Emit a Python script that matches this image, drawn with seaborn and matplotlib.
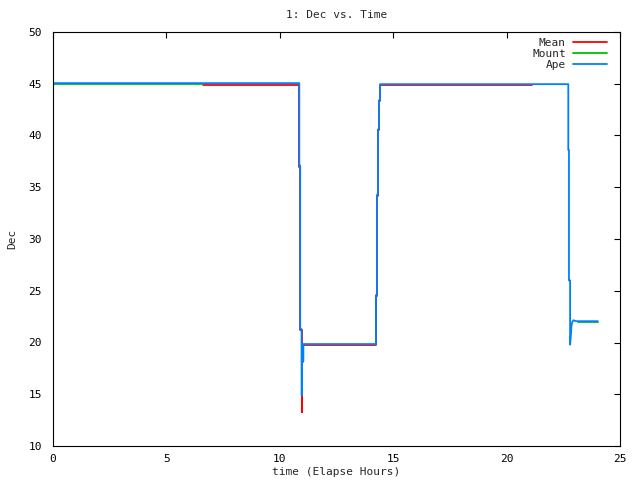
import numpy as np
import pandas as pd
import matplotlib
matplotlib.use("Agg")
import matplotlib.pyplot as plt
import seaborn as sns

# ---- data ----
series_names = ["Mean", "Mount", "Ape"]
series_colors = ["#ff0000", "#00c000", "#0080ff"]

mean_t = [6.61, 10.86, 10.86, 10.90, 10.90, 10.96, 10.96, 10.98, 10.98, 11.04, 11.04,
          14.24, 14.24, 14.29, 14.29, 14.33, 14.33, 14.37, 14.37, 14.42, 14.42, 21.10]
mean_v = [44.88, 44.88, 37.0, 37.0, 21.2, 21.2, 13.3, 13.3, 18.1, 18.1, 19.72,
          19.72, 24.5, 24.5, 34.2, 34.2, 40.5, 40.5, 43.3, 43.3, 44.85, 44.85]

mount_t1 = [0.0, 6.61]
mount_v1 = [44.98, 44.98]
mount_t2 = [23.13, 24.02]
mount_v2 = [21.97, 21.97]

ape_t = [0.0, 10.86, 10.86, 10.90, 10.90, 10.96, 10.96, 10.98, 10.98, 11.04, 11.04,
         14.24, 14.24, 14.29, 14.29, 14.33, 14.33, 14.37, 14.37, 14.42, 14.42,
         22.72, 22.72, 22.75, 22.75, 22.80, 22.80, 22.83, 22.86, 22.90, 22.95, 23.05, 24.02]
ape_v = [45.06, 45.06, 37.1, 37.1, 21.3, 21.3, 14.9, 14.9, 18.2, 18.2, 19.85,
         19.85, 24.6, 24.6, 34.3, 34.3, 40.6, 40.6, 43.4, 43.4, 44.96,
         44.96, 38.6, 38.6, 26.0, 26.0, 19.8, 20.6, 21.6, 22.0, 22.15, 22.06, 22.06]

title = "1: Dec vs. Time"
xlabel = "time (Elapse Hours)"
ylabel = "Dec"
xticks = [0, 5, 10, 15, 20, 25]
yticks = [10, 15, 20, 25, 30, 35, 40, 45, 50]

# ---- build long table ----
rows = []
def add(name, seg, ts, vs):
    for i, (t, v) in enumerate(zip(ts, vs)):
        rows.append({"t": t, "v": v, "series": name, "seg": seg, "order": i})
add("Mean", "mean0", mean_t, mean_v)
add("Mount", "mount1", mount_t1, mount_v1)
add("Mount", "mount2", mount_t2, mount_v2)
add("Ape", "ape0", ape_t, ape_v)
df = pd.DataFrame(rows)

sns.set_theme(style="white")
plt.rcParams["font.family"] = ["DejaVu Sans Mono"]

fig = plt.figure(figsize=(6.4, 4.8), dpi=100)
ax = fig.add_axes([53/640, 1 - 446/480, (620-53)/640, (446-32)/480])

sns.lineplot(data=df, x="t", y="v", hue="series", units="seg", estimator=None,
             sort=False, hue_order=series_names, palette=series_colors,
             linewidth=1.3, ax=ax, legend=False)

ax.set_xlim(0, 25)
ax.set_ylim(10, 50)
ax.set_xticks(xticks)
ax.set_yticks(yticks)
ax.set_xticklabels([str(x) for x in xticks])
ax.set_yticklabels([str(y) for y in yticks])
ax.tick_params(direction="in", length=4.5, width=0.8, top=True, right=True,
               labelsize=8, colors="black", pad=6)
ax.tick_params(axis="y", pad=8)
for s in ax.spines.values():
    s.set_visible(True)
    s.set_color("black")
    s.set_linewidth(0.8)

ax.set_title(title, fontsize=8, pad=10)
ax.set_xlabel(xlabel, fontsize=8)
ax.set_ylabel(ylabel, fontsize=8)
ax.xaxis.set_label_coords(0.5, -(472 - 446) / 414, transform=ax.transAxes)
ax.xaxis.label.set_va("center")
ax.yaxis.set_label_coords(-(53 - 12) / 567, 0.5, transform=ax.transAxes)
ax.yaxis.label.set_va("center")

from matplotlib.lines import Line2D
handles = [Line2D([0], [0], color=c, lw=1.3) for c in series_colors]
leg = ax.legend(handles, series_names, loc="upper right", markerfirst=False,
                frameon=False, fontsize=8, handlelength=3.1, handletextpad=0.6,
                labelspacing=0.1, borderaxespad=0.0, borderpad=0.0,
                bbox_to_anchor=((607 - 53) / 567, 1 - (38 - 32) / 414))

fig.savefig("out.png", dpi=100)
